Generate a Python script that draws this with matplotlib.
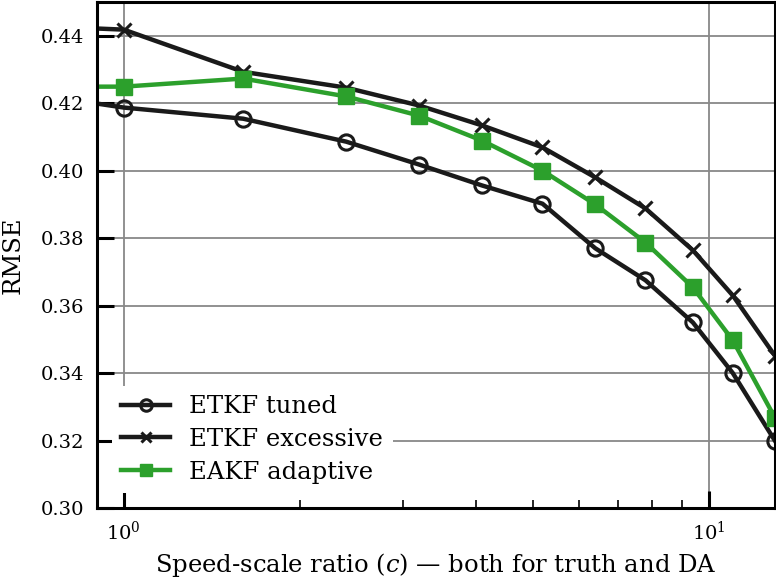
import matplotlib
matplotlib.use("Agg")
import matplotlib.pyplot as plt

plt.rcParams['font.family'] = 'DejaVu Serif'
plt.rcParams['mathtext.fontset'] = 'dejavuserif'

# speed-scale ratio
c_vals = [0.8, 1.0, 1.6, 2.4, 3.2, 4.1, 5.2, 6.4, 7.8, 9.4, 11.0, 13.0]

rmse_tuned = [0.4212, 0.4187, 0.4154, 0.4086, 0.4018, 0.3956, 0.3902, 0.3770, 0.3675, 0.3550, 0.3400, 0.3198]
rmse_excessive = [0.4425, 0.4418, 0.4293, 0.4246, 0.4193, 0.4134, 0.4069, 0.3980, 0.3888, 0.3764, 0.3630, 0.3450]
rmse_adaptive = [0.4249, 0.4249, 0.4273, 0.4220, 0.4163, 0.4089, 0.4000, 0.3900, 0.3787, 0.3654, 0.3497, 0.3266]

fig = plt.figure(figsize=(7.76, 5.79), dpi=100)
ax = fig.add_axes([0.125, 0.1226, 0.874, 0.874])

ax.plot(c_vals, rmse_tuned, color='#1a1a1a', lw=3.2, marker='o', ms=11,
        mfc='none', mew=2.2, label='ETKF tuned')
ax.plot(c_vals, rmse_excessive, color='#1a1a1a', lw=3.2, marker='x', ms=10,
        mew=2.2, label='ETKF excessive')
ax.plot(c_vals, rmse_adaptive, color='#2ca02c', lw=3.2, marker='s', ms=11,
        label='EAKF adaptive')

ax.set_xscale('log')
ax.set_xlim(0.9, 13.0)
ax.set_ylim(0.30, 0.45)
ax.set_yticks([0.30, 0.32, 0.34, 0.36, 0.38, 0.40, 0.42, 0.44])

ax.grid(True, which='major', color='#888888', lw=1.3)
ax.set_axisbelow(True)

ax.tick_params(which='major', direction='in', length=12, width=2.2, labelsize=14)
ax.tick_params(axis='x', which='major', pad=9)
ax.tick_params(axis='y', which='major', pad=9)
ax.tick_params(which='minor', direction='in', length=6, width=1.2)
for s in ax.spines.values():
    s.set_linewidth(2.2)

ax.set_xlabel('Speed-scale ratio ($c$) — both for truth and DA', fontsize=17.5, labelpad=5)
ax.set_ylabel('RMSE', fontsize=17.5, labelpad=12)

leg = ax.legend(loc='lower left', fontsize=17.5, frameon=True, framealpha=1,
                edgecolor='none', borderaxespad=0.6, handlelength=2.0,
                markerscale=0.75, labelspacing=0.4)
leg.get_frame().set_facecolor('white')

fig.savefig('out.png', dpi=100)
